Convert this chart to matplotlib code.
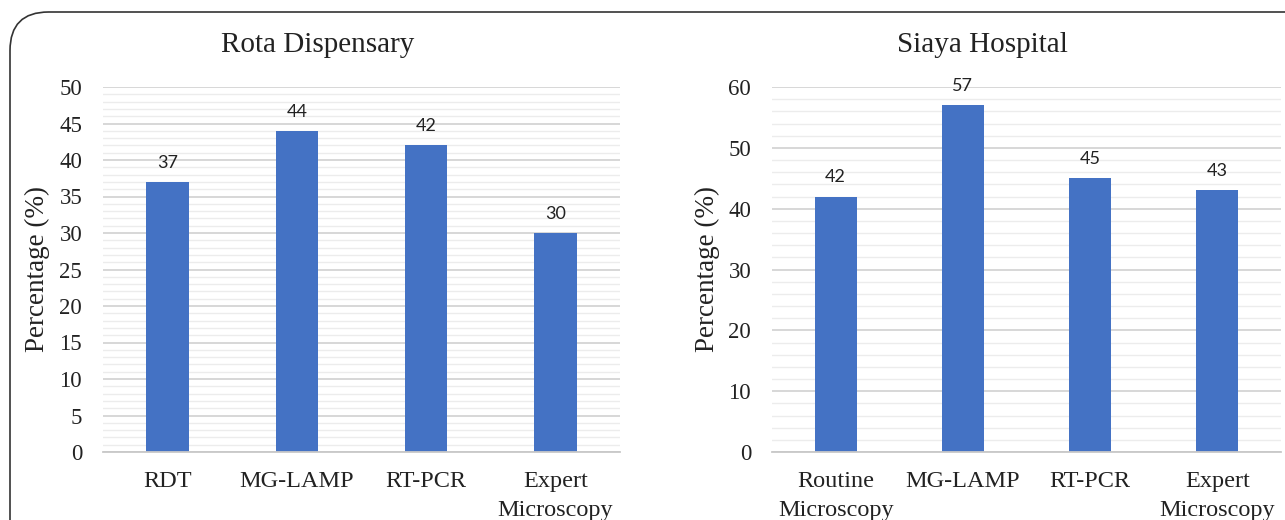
import matplotlib.pyplot as plt
from matplotlib.patches import FancyBboxPatch
from matplotlib.ticker import MultipleLocator

# data
rota_labels = ["RDT", "MG-LAMP", "RT-PCR", "Expert\nMicroscopy"]
rota_values = [37, 44, 42, 30]
siaya_labels = ["Routine\nMicroscopy", "MG-LAMP", "RT-PCR", "Expert\nMicroscopy"]
siaya_values = [42, 57, 45, 43]

plt.rcParams['font.family'] = ['Liberation Serif', 'DejaVu Serif']
bar_color = "#4472C4"
txt = '#222222'

fig = plt.figure(figsize=(12.85, 5.2), dpi=100)

# rounded frame around the figure (cut off at right/bottom)
frame = FancyBboxPatch((10 / 1285, -40 / 520), 1320 / 1285, 548 / 520,
                       boxstyle="round,pad=0,rounding_size=0.03",
                       transform=fig.transFigure, fill=False,
                       edgecolor="#333333", linewidth=1.2, mutation_aspect=2.47)
fig.patches.append(frame)

ax1 = fig.add_axes([103 / 1285, 68 / 520, 517 / 1285, 365 / 520])
ax2 = fig.add_axes([772 / 1285, 68 / 520, 509 / 1285, 365 / 520])


def draw(ax, labels, values, title, title_x, ymax, major, minor):
    x = range(len(values))
    bars = ax.bar(x, values, width=0.33, color=bar_color, zorder=3)
    ax.set_xlim(-0.5, len(values) - 0.5)
    ax.set_ylim(0, ymax)
    ax.yaxis.set_major_locator(MultipleLocator(major))
    ax.yaxis.set_minor_locator(MultipleLocator(minor))
    ax.grid(axis='y', which='major', color='#d4d4d4', linewidth=1.3, zorder=0)
    ax.grid(axis='y', which='minor', color='#ececec', linewidth=1.0, zorder=0)
    for s in ['top', 'right', 'left']:
        ax.spines[s].set_visible(False)
    ax.spines['bottom'].set_color('#c8c8c8')
    ax.spines['bottom'].set_linewidth(1.3)
    ax.spines['bottom'].set_zorder(4)
    ax.tick_params(axis='both', which='both', length=0)
    ax.tick_params(axis='y', labelsize=16.5, pad=15, colors=txt)
    ax.tick_params(axis='x', labelsize=17.5, pad=14, colors=txt)
    ax.set_xticks(list(x))
    ax.set_xticklabels(labels, linespacing=1.45)
    ax.set_ylabel("Percentage (%)", fontsize=19.5, color=txt)
    ax.yaxis.set_label_coords(-0.102, 0.5)
    fig.text(title_x, 0.9, title, fontsize=21, color=txt,
             ha='center', va='baseline')
    for b, v in zip(bars, values):
        ax.annotate(str(v), (b.get_x() + b.get_width() / 2, v),
                    xytext=(0, 8), textcoords='offset points',
                    ha='center', va='bottom', fontsize=13, color=txt,
                    family=['Lato', 'DejaVu Sans'])


draw(ax1, rota_labels, rota_values, "Rota Dispensary", 318 / 1285, 50, 5, 1)
draw(ax2, siaya_labels, siaya_values, "Siaya Hospital", 982 / 1285, 60, 10, 2)

fig.savefig("out.png", dpi=100)
